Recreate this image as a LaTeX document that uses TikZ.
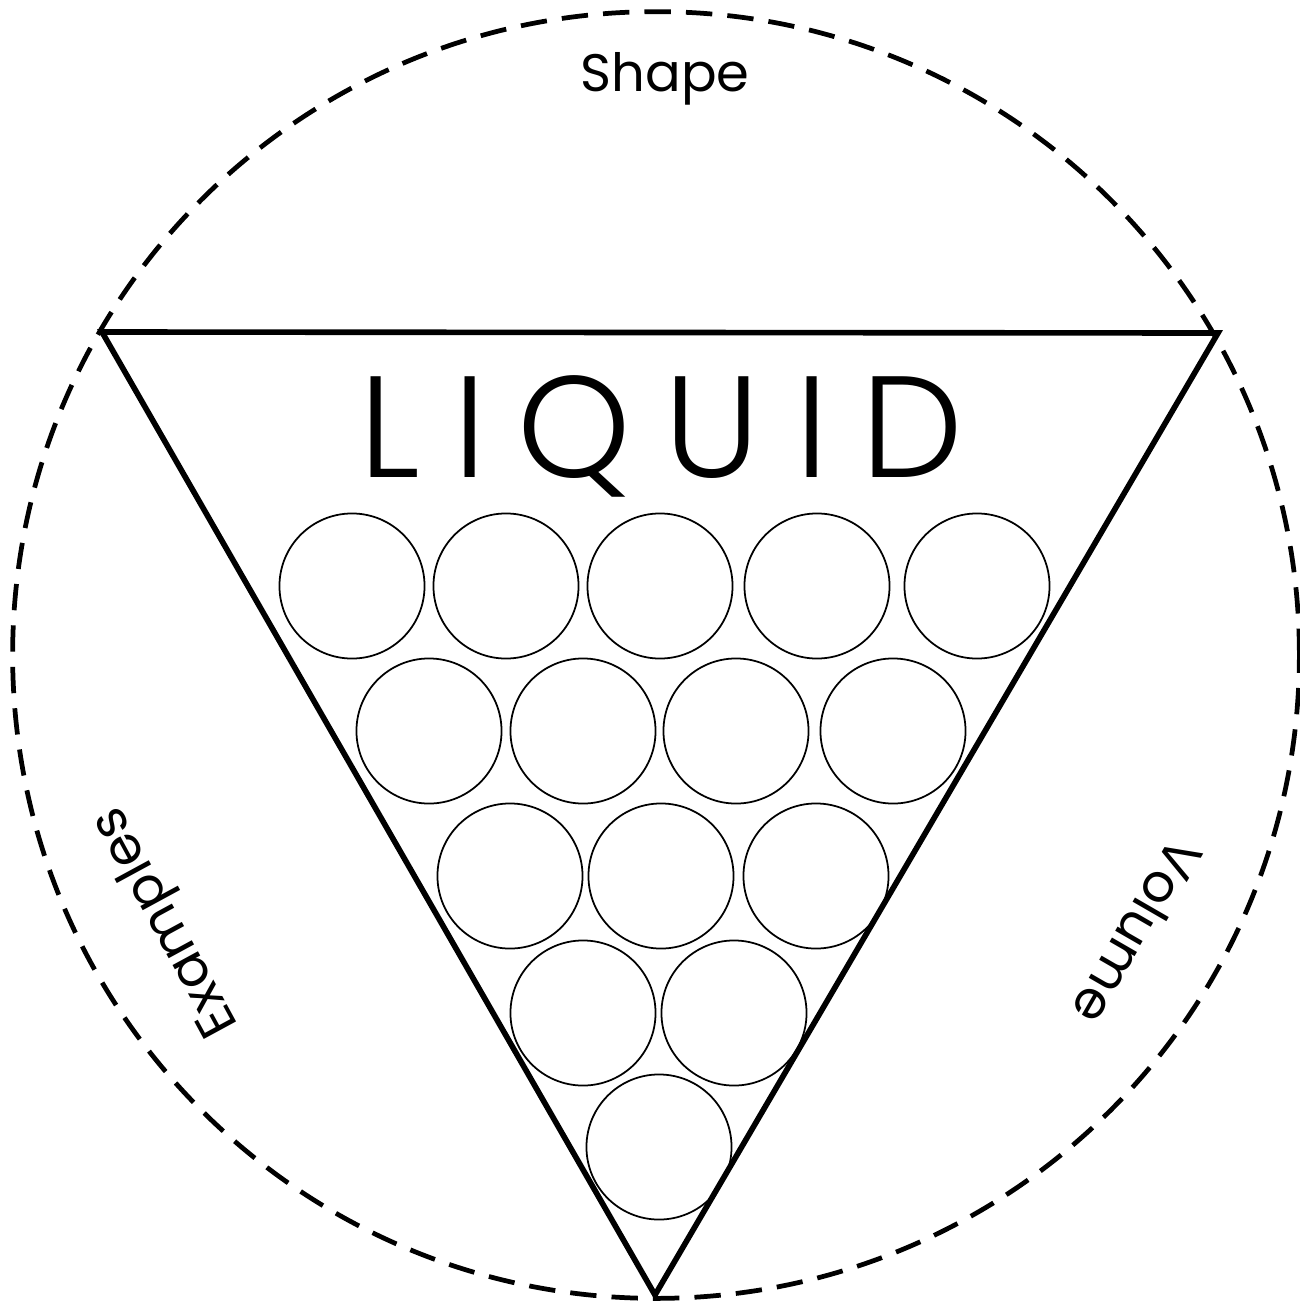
\documentclass[tikz,border=0pt]{standalone}
\usepackage{fontspec}
\setmainfont{Poppins}
\newfontfamily\lightfont{Poppins Light}
\begin{document}
\begin{tikzpicture}[x=0.01cm,y=-0.01cm,
  ball/.style={circle,draw,line width=0.5pt,minimum size=1.45cm,inner sep=0pt},
  ring/.style={circle,draw,dash pattern=on 7.5pt off 4.3pt,line width=1.35pt,minimum size=12.86cm,inner sep=0pt},
  tri/.style={line width=1.6pt,line join=miter},
  side/.style={font=\fontsize{15}{18}\selectfont,inner sep=0pt},
  big/.style={font=\lightfont\fontsize{41}{48}\selectfont,inner sep=0pt,anchor=base}]
\useasboundingbox (0,0) rectangle (1300,1303);
\node[ring] (outer) at (656,655) {};
\coordinate (tl) at (102,332);
\coordinate (tr) at (1218,333);
\coordinate (bt) at (655,1295);
\draw[tri] (tl) -- (tr) -- (bt) -- cycle;
% LIQUID letters
\node[big] (l1) at (389.5,477) {L};
\node[big] (l2) at (470,477) {I};
\node[big] (l3) at (574,477) {Q};
\node[big] (l4) at (712,477) {U};
\node[big] (l5) at (812,477) {I};
\node[big] (l6) at (912,477) {D};
% balls
\node[ball] (c1) at (352,586) {};
\node[ball] (c2) at (506,586) {};
\node[ball] (c3) at (660,586) {};
\node[ball] (c4) at (817,586) {};
\node[ball] (c5) at (977,586) {};
\node[ball] (c6) at (429,731) {};
\node[ball] (c7) at (583,731) {};
\node[ball] (c8) at (736,731) {};
\node[ball] (c9) at (893,731) {};
\node[ball] (c10) at (510,876) {};
\node[ball] (c11) at (661,876) {};
\node[ball] (c12) at (816,876) {};
\node[ball] (c13) at (583,1013) {};
\node[ball] (c14) at (734,1013) {};
\node[ball] (c15) at (659,1147) {};
% side labels
\node[side] (shape) at (665,79) {Shape};
\node[side,rotate=-120] (volume) at (1138,932) {Volume};
\node[side,rotate=118.5] (examples) at (167,921) {Examples};
\end{tikzpicture}
\end{document}
